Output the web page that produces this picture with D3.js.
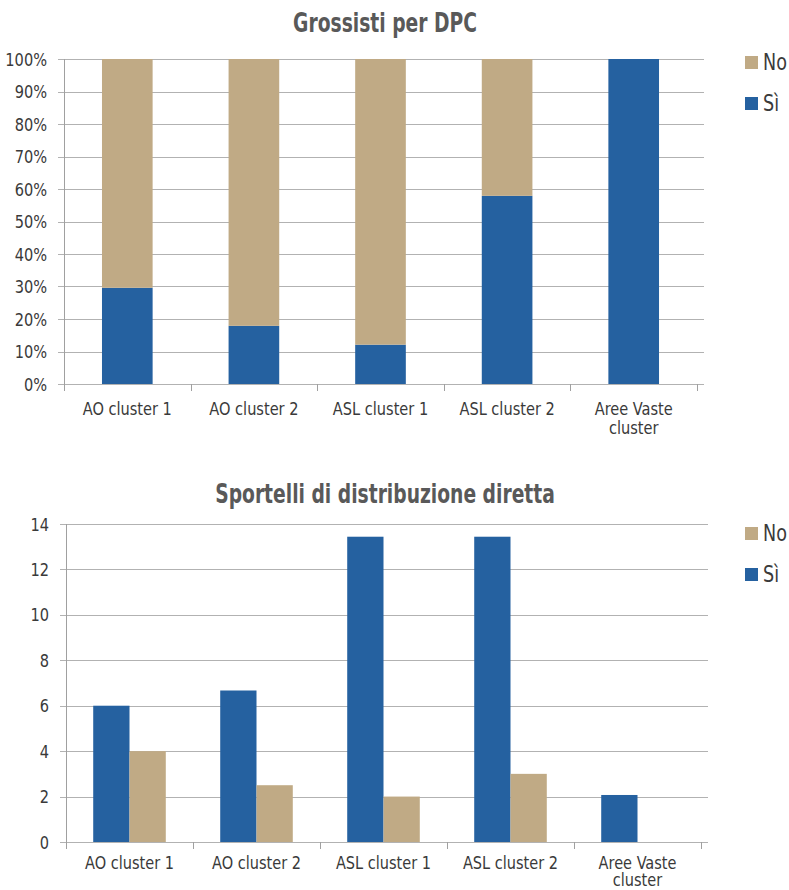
<!DOCTYPE html>
<html>
<head>
<meta charset="utf-8">
<script src="https://cdn.jsdelivr.net/npm/d3@7"></script>
<style>
  html, body { margin: 0; padding: 0; background: #fff; }
  svg text { font-family: "DejaVu Sans Condensed", "DejaVu Sans", sans-serif; }
</style>
</head>
<body>
<svg id="chart" width="789" height="890"></svg>
<script>
// Categories shared by both panels
const categories = ["AO cluster 1", "AO cluster 2", "ASL cluster 1", "ASL cluster 2", "Aree Vaste cluster"];
const seriesNames = ["No", "Sì"];

// Panel 1: share of wholesalers for DPC (percent)
const dpcSi = [29.6, 17.9, 12.1, 57.9, 100];
const dpcNo = [70.4, 82.1, 87.9, 42.1, 0];
const dpcTicks = [0, 10, 20, 30, 40, 50, 60, 70, 80, 90, 100];

// Panel 2: direct distribution desks (counts)
const sportelliSi = [6, 6.67, 13.44, 13.44, 2.07];
const sportelliNo = [4, 2.5, 2, 3, 0];
const sportelliTicks = [0, 2, 4, 6, 8, 10, 12, 14];

const colors = { "Sì": "#2561A0", "No": "#C0AA85" };
const svg = d3.select("#chart");

function frame(g, x, y, ticks, fmt, left, right, bottom, lab) {
  g.selectAll(".grid").data(ticks).join("line")
    .attr("x1", left - 6).attr("x2", right + 7)
    .attr("y1", d => Math.round(y(d)) + 0.5).attr("y2", d => Math.round(y(d)) + 0.5)
    .attr("stroke", "#B2B2B2").attr("stroke-width", 1);
  g.selectAll(".ylab").data(ticks).join("text")
    .attr("transform", d => `translate(${left - 17},${y(d) + 6.5}) scale(0.9,1)`)
    .attr("text-anchor", "end").attr("font-size", 18).attr("fill", "#3a3a3a")
    .text(fmt);
  g.append("line").attr("x1", left + 0.5).attr("x2", left + 0.5)
    .attr("y1", y(ticks[ticks.length - 1])).attr("y2", bottom)
    .attr("stroke", "#A0A0A0");
  const bounds = d3.range(categories.length + 1).map(i => left + i * x.step());
  g.selectAll(".ctick").data(bounds).join("line")
    .attr("x1", d => Math.round(d) + 0.5).attr("x2", d => Math.round(d) + 0.5)
    .attr("y1", bottom).attr("y2", bottom + 7)
    .attr("stroke", "#A0A0A0");
  const labs = g.selectAll(".clab").data(categories).join("text")
    .attr("transform", d => `translate(${x(d) + x.bandwidth() / 2},${bottom + lab.offset}) scale(${lab.sx},1)`)
    .attr("text-anchor", "middle").attr("font-size", lab.size).attr("fill", "#3a3a3a");
  labs.each(function(d) {
    const lines = d === "Aree Vaste cluster" ? ["Aree Vaste", "cluster"] : [d];
    d3.select(this).selectAll("tspan").data(lines).join("tspan")
      .attr("x", 0).attr("dy", (l, i) => i === 0 ? 0 : lab.gap).text(l => l);
  });
}

function legend(g, lx, ly) {
  seriesNames.forEach((s, i) => {
    g.append("rect").attr("x", lx).attr("y", ly + i * 41).attr("width", 13).attr("height", 13)
      .attr("fill", colors[s]);
    g.append("text").attr("transform", `translate(${lx + 18},${ly + i * 41 + 14}) scale(0.85,1)`)
      .attr("font-size", 23).attr("fill", "#3a3a3a").text(s);
  });
}

function title(g, t, ty) {
  g.append("text").attr("transform", `translate(385,${ty}) scale(0.8,1)`).attr("text-anchor", "middle")
    .attr("font-size", 26).attr("font-weight", "bold").attr("fill", "#595959").text(t);
}

// ---- Panel 1: stacked 100% bars ----
{
  const g = svg.append("g");
  const left = 64, right = 697, top = 59, bottom = 384;
  const x = d3.scaleBand().domain(categories).range([left, right]).paddingInner(0.6).paddingOuter(0.3);
  const y = d3.scaleLinear().domain([0, 100]).range([bottom, top]);
  title(g, "Grossisti per DPC", 32);
  frame(g, x, y, dpcTicks, d => d + "%", left, right, bottom, { offset: 31, gap: 19, size: 18, sx: 0.9 });
  const rows = categories.map((c, i) => ({ cat: c, "Sì": dpcSi[i], "No": dpcNo[i] }));
  const stack = d3.stack().keys(["Sì", "No"])(rows);
  g.selectAll(".layer").data(stack).join("g").attr("fill", d => colors[d.key])
    .selectAll("rect").data(d => d).join("rect")
    .attr("x", d => x(d.data.cat)).attr("width", x.bandwidth())
    .attr("y", d => y(d[1])).attr("height", d => y(d[0]) - y(d[1]));
  legend(g, 745, 56);
}

// ---- Panel 2: grouped bars ----
{
  const g = svg.append("g");
  const left = 66, right = 701, top = 524, bottom = 842;
  const x = d3.scaleBand().domain(categories).range([left, right]);
  const inner = d3.scaleBand().domain(["Sì", "No"]).range([0, x.bandwidth()]).paddingOuter(0.75).paddingInner(0);
  const y = d3.scaleLinear().domain([0, 14]).range([bottom, top]);
  title(g, "Sportelli di distribuzione diretta", 503);
  frame(g, x, y, sportelliTicks, d => d, left, right, bottom, { offset: 26.5, gap: 17.5, size: 17, sx: 0.95 });
  const vals = { "Sì": sportelliSi, "No": sportelliNo };
  const cells = [];
  categories.forEach((c, i) => ["Sì", "No"].forEach(s => cells.push({ cat: c, s, v: vals[s][i] })));
  g.selectAll(".bar").data(cells.filter(d => d.v > 0)).join("rect")
    .attr("x", d => x(d.cat) + inner(d.s)).attr("width", inner.bandwidth())
    .attr("y", d => y(d.v)).attr("height", d => y(0) - y(d.v))
    .attr("fill", d => colors[d.s]);
  legend(g, 745, 527);
}
</script>
</body>
</html>
